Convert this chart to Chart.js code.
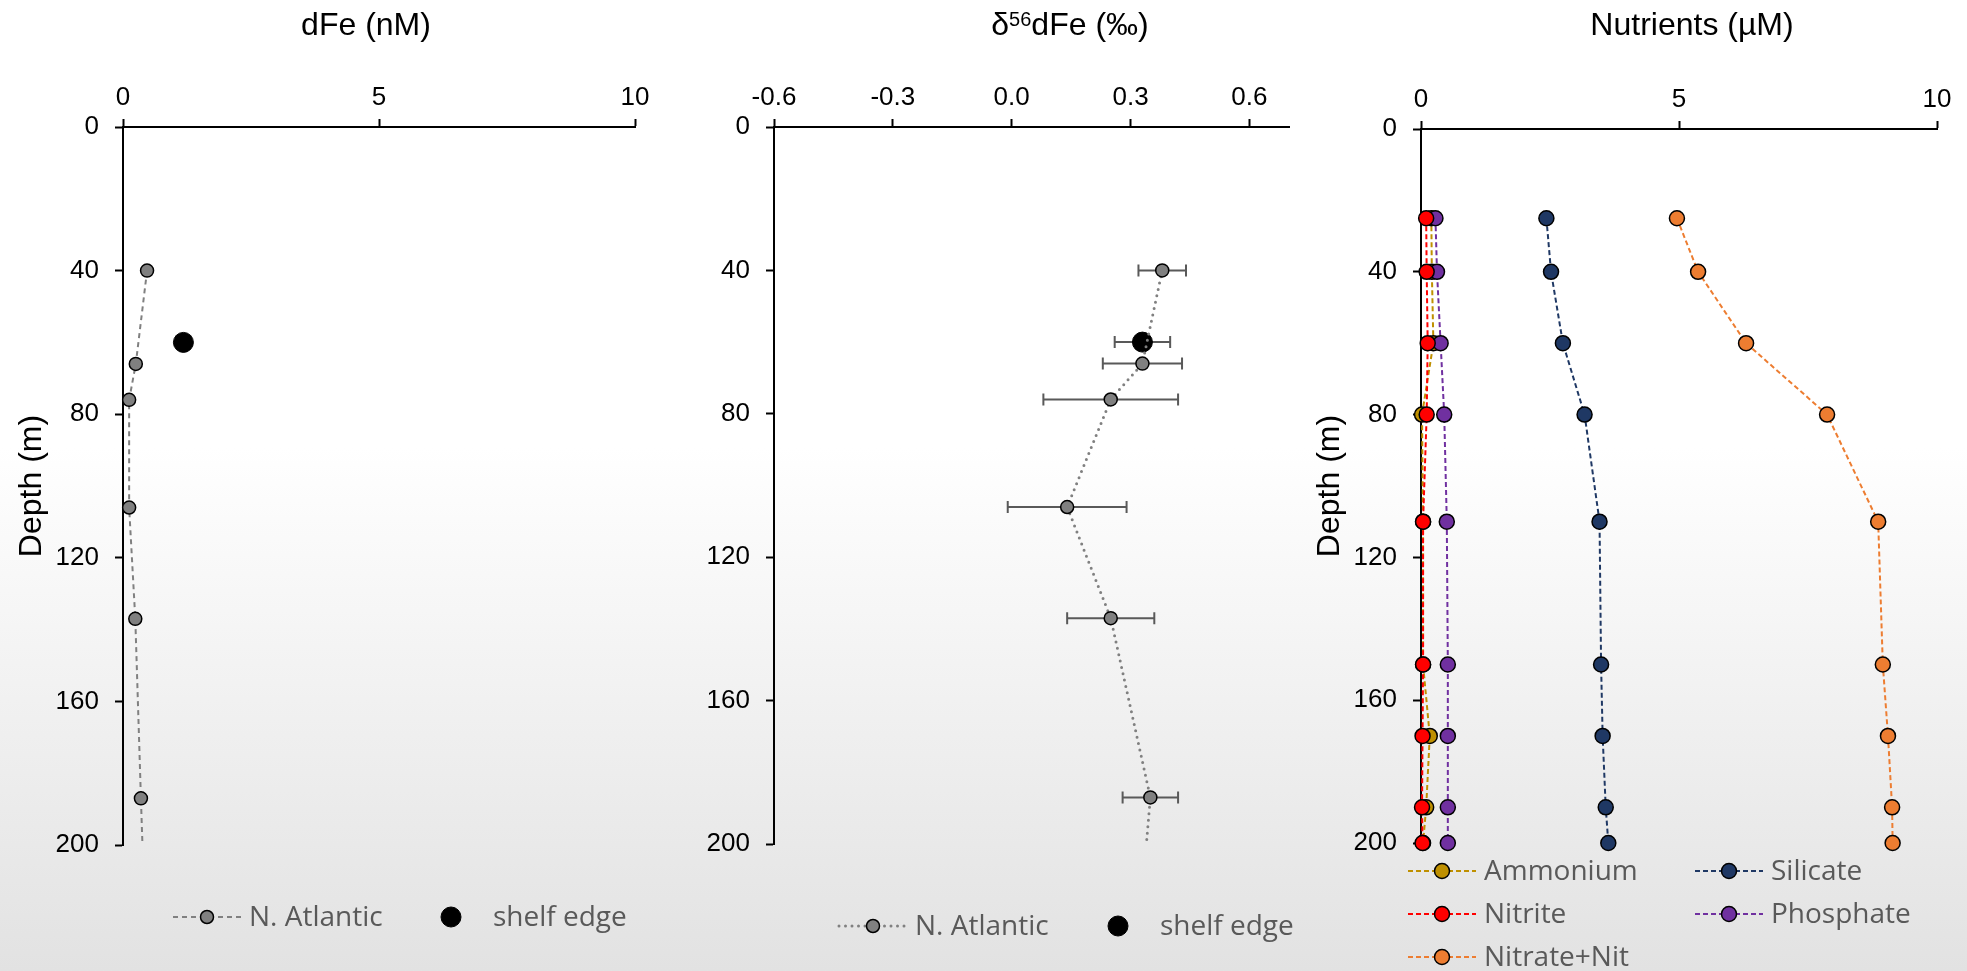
<!DOCTYPE html>
<html>
<head>
<meta charset="utf-8">
<title>Fe and nutrient profiles</title>
<script src="https://cdn.jsdelivr.net/npm/chart.js@4.4.1/dist/chart.umd.min.js"></script>
<style>
  html, body { margin: 0; padding: 0; overflow: hidden; }
  #wrap {
    position: relative; width: 1967px; height: 971px;
    background: linear-gradient(to bottom, #ffffff 0%, #ffffff 46%, #e2e2e2 100%);
  }
  #wrap canvas { position: absolute; top: 0; }
</style>
</head>
<body>
<div id="wrap">
  <canvas id="dfe-chart" width="660" height="971" style="left:0px"></canvas>
  <canvas id="iso-chart" width="660" height="971" style="left:640px"></canvas>
  <canvas id="nut-chart" width="672" height="971" style="left:1295px"></canvas>
</div>
<script>
// N. Atlantic station profile
const naDepth = [40, 66, 76, 106, 137, 187, 200];
const naDFe = [0.47, 0.25, 0.12, 0.12, 0.24, 0.35, 0.38];
const naD56 = [0.38, 0.33, 0.25, 0.14, 0.25, 0.35, 0.34];
const naD56Err = [0.06, 0.10, 0.17, 0.15, 0.11, 0.07, 0];
const naMarker = [6.5, 6.5, 6.5, 6.5, 6.5, 6.5, 0]; // deepest value only carries the line

// shelf edge sample
const shelfDepth = [60];
const shelfDFe = [1.18];
const shelfD56 = [0.33];
const shelfD56Err = [0.07];

// nutrients (µM)
const nutDepth = [25, 40, 60, 80, 110, 150, 170, 190, 200];
const ammonium = [0.20, 0.21, 0.24, 0.02, 0.04, 0.04, 0.17, 0.10, 0.04];
const silicate = [2.43, 2.52, 2.75, 3.17, 3.46, 3.49, 3.52, 3.58, 3.63];
const nitrite = [0.10, 0.11, 0.13, 0.11, 0.04, 0.04, 0.03, 0.02, 0.03];
const phosphate = [0.28, 0.31, 0.38, 0.45, 0.50, 0.52, 0.52, 0.52, 0.52];
const nitrateNitrite = [4.96, 5.37, 6.30, 7.87, 8.86, 8.95, 9.05, 9.13, 9.14];

// tick labels
const depthTicks = [0, 40, 80, 120, 160, 200];
const dFeTicks = [0, 5, 10];
const d56Ticks = [-0.6, -0.3, 0, 0.3, 0.6];
const nutTicks = [0, 5, 10];

const SANS = '"Liberation Sans", Arial, sans-serif';
const pts = (xs, ys) => xs.map((x, i) => ({ x: x, y: ys[i] }));

// error bars, panel titles and the line+marker legends
const profileDecor = {
    id: 'profileDecor',
    beforeDatasetsDraw(chart) {
        const { ctx } = chart;
        const xs = chart.scales.x, ys = chart.scales.y;
        chart.data.datasets.forEach(ds => {
            if (!ds.xErr) return;
            ctx.save();
            ctx.strokeStyle = '#595959';
            ctx.lineWidth = 2;
            ds.data.forEach((p, i) => {
                const e = ds.xErr[i];
                if (!e) return;
                const x0 = xs.getPixelForValue(p.x - e);
                const x1 = xs.getPixelForValue(p.x + e);
                const py = ys.getPixelForValue(p.y);
                ctx.beginPath();
                ctx.moveTo(x0, py); ctx.lineTo(x1, py);
                ctx.moveTo(x0, py - 6); ctx.lineTo(x0, py + 6);
                ctx.moveTo(x1, py - 6); ctx.lineTo(x1, py + 6);
                ctx.stroke();
            });
            ctx.restore();
        });
    },
    afterDraw(chart, args, opts) {
        const { ctx } = chart;
        ctx.save();

        // title, drawn in pieces so the isotope number can sit raised
        const parts = opts.title.parts;
        let total = 0;
        parts.forEach(p => {
            ctx.font = p.size + 'px ' + SANS;
            p.w = ctx.measureText(p.text).width;
            total += p.w;
        });
        let tx = opts.title.x - total / 2;
        ctx.fillStyle = '#000';
        ctx.textAlign = 'left';
        ctx.textBaseline = 'alphabetic';
        parts.forEach(p => {
            ctx.font = p.size + 'px ' + SANS;
            ctx.fillText(p.text, tx, opts.title.y - (p.rise || 0));
            tx += p.w;
        });

        // legend
        ctx.font = '28px "Open Sans", sans-serif';
        ctx.textBaseline = 'middle';
        opts.legend.forEach(it => {
            const ds = chart.data.datasets[it.ds];
            let mx = it.x, lx = it.x + 42;
            if (ds.showLine) {
                ctx.save();
                ctx.strokeStyle = ds.borderColor;
                ctx.lineWidth = ds.borderWidth;
                ctx.lineCap = ds.borderCapStyle || 'butt';
                ctx.setLineDash(ds.borderDash || []);
                ctx.beginPath();
                ctx.moveTo(it.x, it.y);
                ctx.lineTo(it.x + 68, it.y);
                ctx.stroke();
                ctx.restore();
                mx = it.x + 34;
                lx = it.x + 76;
            }
            const r = Array.isArray(ds.pointRadius) ? Math.max(...ds.pointRadius) : ds.pointRadius;
            ctx.beginPath();
            ctx.arc(mx, it.y, r, 0, Math.PI * 2);
            ctx.fillStyle = ds.pointBackgroundColor;
            ctx.fill();
            ctx.lineWidth = ds.pointBorderWidth;
            ctx.strokeStyle = ds.pointBorderColor;
            ctx.stroke();
            ctx.fillStyle = '#595959';
            ctx.fillText(ds.label, lx, it.y + 1);
        });
        ctx.restore();
    }
};

const depthAxis = (width, title, titlePad) => ({
    type: 'linear',
    position: 'left',
    reverse: true,
    min: 0,
    max: 200,
    afterBuildTicks: s => { s.ticks = depthTicks.map(v => ({ value: v })); },
    afterFit: s => { s.width = width; },
    ticks: { font: { family: SANS, size: 26 }, color: '#000', padding: 16 },
    grid: { drawOnChartArea: false, tickLength: 8, tickWidth: 2, tickColor: '#000' },
    border: { color: '#000', width: 2 },
    title: {
        display: !!title,
        text: title,
        color: '#000',
        font: { family: SANS, size: 32, lineHeight: 1 },
        padding: { top: titlePad, bottom: 0 }
    }
});

const valueAxis = (min, max, tickVals, height, digits) => ({
    type: 'linear',
    position: 'top',
    min: min,
    max: max,
    afterBuildTicks: s => { s.ticks = tickVals.map(v => ({ value: v })); },
    afterFit: s => { s.height = height; },
    ticks: {
        font: { family: SANS, size: 26 },
        color: '#000',
        padding: 6,
        autoSkip: false,
        maxRotation: 0,
        callback: v => v.toFixed(digits)
    },
    grid: { drawOnChartArea: false, tickLength: 8, tickWidth: 2, tickColor: '#000' },
    border: { color: '#000', width: 2 }
});

const profileLine = (label, xs, ys, color, extra) => Object.assign({
    label: label,
    data: pts(xs, ys),
    showLine: true,
    borderColor: color,
    borderWidth: 2,
    borderDash: [5, 3],
    pointRadius: 7.5,
    pointHoverRadius: 7.5,
    pointBackgroundColor: color,
    pointBorderColor: '#000',
    pointBorderWidth: 1.5,
    clip: false
}, extra || {});

const shelfPoint = (xs) => ({
    label: 'shelf edge',
    data: pts(xs, shelfDepth),
    showLine: false,
    pointRadius: 10,
    pointHoverRadius: 10,
    pointBackgroundColor: '#000',
    pointBorderColor: '#000',
    pointBorderWidth: 1,
    clip: false
});

const baseOptions = (pad, scales, decor) => ({
    responsive: false,
    animation: false,
    events: [],
    layout: { padding: pad },
    scales: scales,
    plugins: {
        legend: { display: false },
        tooltip: { enabled: false },
        profileDecor: decor
    }
});

// dFe
new Chart(document.getElementById('dfe-chart'), {
    type: 'scatter',
    data: {
        datasets: [
            profileLine('N. Atlantic', naDFe, naDepth, '#808080', {
                borderDash: [5, 4], pointRadius: naMarker, pointHoverRadius: naMarker
            }),
            shelfPoint(shelfDFe)
        ]
    },
    options: baseOptions(
        { left: 0, top: 0, right: 25, bottom: 126 },
        { x: valueAxis(0, 10, dFeTicks, 127, 0), y: depthAxis(123, 'Depth (m)', 16) },
        {
            title: { x: 366, y: 35, parts: [{ text: 'dFe (nM)', size: 32 }] },
            legend: [{ ds: 0, x: 173, y: 917 }, { ds: 1, x: 451, y: 917 }]
        }
    ),
    plugins: [profileDecor]
});

// δ56Fe of dissolved Fe
const isoNA = profileLine('N. Atlantic', naD56, naDepth, '#808080', {
    borderWidth: 3, borderDash: [0, 6.5], borderCapStyle: 'round',
    pointRadius: naMarker, pointHoverRadius: naMarker
});
isoNA.xErr = naD56Err;
const isoShelf = shelfPoint(shelfD56);
isoShelf.xErr = shelfD56Err;

new Chart(document.getElementById('iso-chart'), {
    type: 'scatter',
    data: { datasets: [isoNA, isoShelf] },
    options: baseOptions(
        { left: 0, top: 0, right: 7, bottom: 127 },
        { x: valueAxis(-0.6, 0.7, d56Ticks, 127, 1), y: depthAxis(134, '', 0) },
        {
            title: {
                x: 430, y: 35,
                parts: [
                    { text: 'δ', size: 32 },
                    { text: '56', size: 20, rise: 9 },
                    { text: 'dFe (‰)', size: 32 }
                ]
            },
            legend: [{ ds: 0, x: 199, y: 926 }, { ds: 1, x: 478, y: 926 }]
        }
    ),
    plugins: [profileDecor]
});

// nutrients; nitrite drawn on top, then phosphate, then ammonium
new Chart(document.getElementById('nut-chart'), {
    type: 'scatter',
    data: {
        datasets: [
            profileLine('Ammonium', ammonium, nutDepth, '#BF9000', { order: 2 }),
            profileLine('Silicate', silicate, nutDepth, '#1F3864', { order: 3 }),
            profileLine('Nitrite', nitrite, nutDepth, '#FF0000', { order: 0 }),
            profileLine('Phosphate', phosphate, nutDepth, '#7030A0', { order: 1 }),
            profileLine('Nitrate+Nit', nitrateNitrite, nutDepth, '#ED7D31', { order: 4 })
        ]
    },
    options: baseOptions(
        { left: 0, top: 0, right: 30, bottom: 128 },
        { x: valueAxis(0, 10, nutTicks, 129, 0), y: depthAxis(126, 'Depth (m)', 19) },
        {
            title: { x: 397, y: 35, parts: [{ text: 'Nutrients (µM)', size: 32 }] },
            legend: [
                { ds: 0, x: 113, y: 871 }, { ds: 1, x: 400, y: 871 },
                { ds: 2, x: 113, y: 914 }, { ds: 3, x: 400, y: 914 },
                { ds: 4, x: 113, y: 957 }
            ]
        }
    ),
    plugins: [profileDecor]
});
</script>
</body>
</html>
